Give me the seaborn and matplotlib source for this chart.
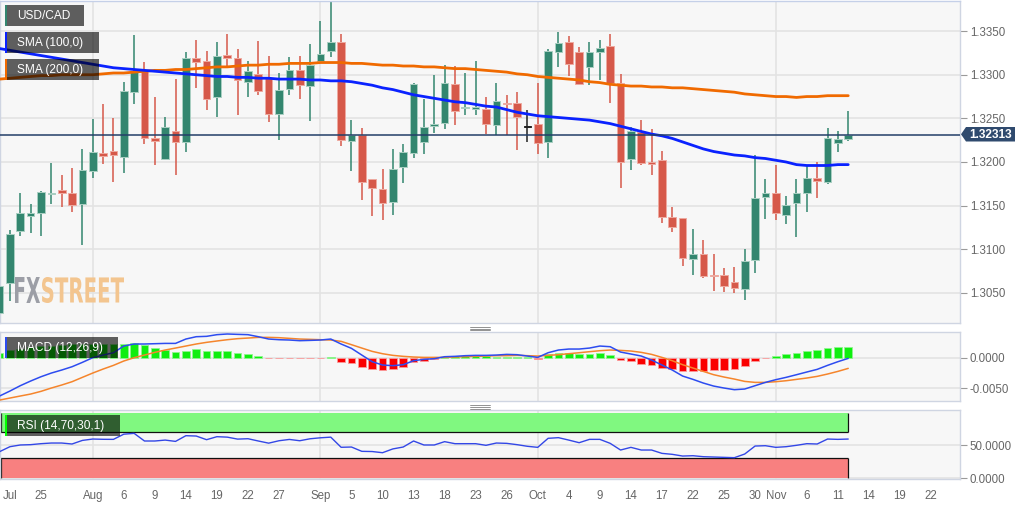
import numpy as np
import pandas as pd
import matplotlib
matplotlib.use("Agg")
import matplotlib.pyplot as plt
import seaborn as sns
from matplotlib.patches import Rectangle, Polygon, PathPatch
from matplotlib.lines import Line2D
from matplotlib.textpath import TextPath
from matplotlib.font_manager import FontProperties
from matplotlib.transforms import Affine2D

# ---------------- data (USD/CAD daily) ----------------
open_ = [1.3027, 1.3061, 1.3121, 1.3138, 1.3141, 1.3163, 1.3168, 1.3165, 1.3152, 1.3190,
         1.3210, 1.3213, 1.3206, 1.3280, 1.3304, 1.3227, 1.3203, 1.3236, 1.3223, 1.3319,
         1.3316, 1.3275, 1.3323, 1.3319, 1.3292, 1.3301, 1.3296, 1.3255, 1.3284, 1.3306,
         1.3287, 1.3316, 1.3327, 1.3337, 1.3224, 1.3231, 1.3180, 1.3169, 1.3154, 1.3194,
         1.3210, 1.3223, 1.3241, 1.3245, 1.3289, 1.3262, 1.3261, 1.3261, 1.3242, 1.3268,
         1.3268, 1.3241, 1.3243, 1.3223, 1.3326, 1.3337, 1.3326, 1.3309, 1.3326, 1.3333,
         1.3291, 1.3203, 1.3234, 1.3200, 1.3202, 1.3137, 1.3136, 1.3089, 1.3094, 1.3071,
         1.3071, 1.3063, 1.3054, 1.3088, 1.3160, 1.3165, 1.3139, 1.3153, 1.3164, 1.3182,
         1.3177, 1.3222, 1.3226]
high = [1.3111, 1.3122, 1.3165, 1.3152, 1.3167, 1.3199, 1.3185, 1.3193, 1.3215, 1.3249,
        1.3267, 1.3250, 1.3292, 1.3345, 1.3315, 1.3275, 1.3251, 1.3295, 1.3326, 1.3340,
        1.3327, 1.3337, 1.3347, 1.3329, 1.3316, 1.3339, 1.3321, 1.3302, 1.3320, 1.3322,
        1.3335, 1.3362, 1.3383, 1.3347, 1.3248, 1.3239, 1.3180, 1.3192, 1.3215, 1.3221,
        1.3290, 1.3272, 1.3300, 1.3311, 1.3310, 1.3302, 1.3316, 1.3275, 1.3290, 1.3277,
        1.3280, 1.3260, 1.3290, 1.3329, 1.3349, 1.3344, 1.3332, 1.3337, 1.3340, 1.3347,
        1.3301, 1.3240, 1.3248, 1.3238, 1.3213, 1.3149, 1.3136, 1.3123, 1.3111, 1.3095,
        1.3079, 1.3080, 1.3100, 1.3208, 1.3180, 1.3197, 1.3161, 1.3180, 1.3195, 1.3200,
        1.3239, 1.3236, 1.3259]
low = [1.3020, 1.3041, 1.3115, 1.3119, 1.3115, 1.3152, 1.3149, 1.3143, 1.3105, 1.3182,
       1.3198, 1.3177, 1.3187, 1.3267, 1.3221, 1.3197, 1.3202, 1.3185, 1.3211, 1.3285,
       1.3260, 1.3251, 1.3309, 1.3254, 1.3275, 1.3277, 1.3246, 1.3225, 1.3277, 1.3272,
       1.3247, 1.3315, 1.3320, 1.3218, 1.3190, 1.3157, 1.3138, 1.3134, 1.3139, 1.3176,
       1.3205, 1.3209, 1.3233, 1.3238, 1.3242, 1.3254, 1.3254, 1.3232, 1.3231, 1.3231,
       1.3214, 1.3223, 1.3209, 1.3205, 1.3309, 1.3299, 1.3288, 1.3288, 1.3294, 1.3268,
       1.3170, 1.3191, 1.3196, 1.3185, 1.3130, 1.3120, 1.3081, 1.3070, 1.3067, 1.3052,
       1.3051, 1.3050, 1.3042, 1.3073, 1.3135, 1.3133, 1.3129, 1.3114, 1.3143, 1.3159,
       1.3175, 1.3212, 1.3224]
close = [1.3058, 1.3118, 1.3141, 1.3141, 1.3166, 1.3165, 1.3165, 1.3151, 1.3191, 1.3212,
         1.3207, 1.3208, 1.3281, 1.3303, 1.3227, 1.3224, 1.3240, 1.3223, 1.3319, 1.3315,
         1.3272, 1.3322, 1.3319, 1.3294, 1.3304, 1.3281, 1.3255, 1.3283, 1.3305, 1.3288,
         1.3311, 1.3324, 1.3337, 1.3225, 1.3231, 1.3177, 1.3170, 1.3153, 1.3192, 1.3211,
         1.3289, 1.3240, 1.3243, 1.3290, 1.3259, 1.3263, 1.3263, 1.3244, 1.3270, 1.3266,
         1.3251, 1.3241, 1.3222, 1.3327, 1.3336, 1.3312, 1.3289, 1.3326, 1.3331, 1.3290,
         1.3200, 1.3236, 1.3199, 1.3198, 1.3137, 1.3126, 1.3090, 1.3095, 1.3069, 1.3069,
         1.3058, 1.3056, 1.3087, 1.3159, 1.3165, 1.3142, 1.3151, 1.3164, 1.3182, 1.3178,
         1.3228, 1.3226, 1.32313]
sma100 = [1.3330, 1.3328, 1.3326, 1.3324, 1.3322, 1.3320, 1.3318, 1.3316, 1.3314, 1.3312,
          1.3310, 1.3308, 1.3307, 1.3306, 1.3305, 1.3304, 1.3303, 1.3302, 1.3301, 1.3300,
          1.3299, 1.3298, 1.3298, 1.3297, 1.3297, 1.3296, 1.3296, 1.3295, 1.3295, 1.3295,
          1.3294, 1.3294, 1.3293, 1.3293, 1.3292, 1.3290, 1.3288, 1.3285, 1.3283, 1.3280,
          1.3277, 1.3275, 1.3273, 1.3271, 1.3269, 1.3268, 1.3266, 1.3264, 1.3263, 1.3260,
          1.3257, 1.3255, 1.3253, 1.3252, 1.3251, 1.3250, 1.3249, 1.3248, 1.3246, 1.3244,
          1.3241, 1.3238, 1.3235, 1.3232, 1.3230, 1.3227, 1.3223, 1.3219, 1.3215, 1.3212,
          1.3210, 1.3208, 1.3207, 1.3205, 1.3204, 1.3202, 1.3200, 1.3197, 1.3196, 1.3196,
          1.3196, 1.3197, 1.3197]
sma200 = [1.3295, 1.3296, 1.3297, 1.3298, 1.3299, 1.3299, 1.3300, 1.3300, 1.3300, 1.3300,
          1.3301, 1.3302, 1.3302, 1.3303, 1.3304, 1.3305, 1.3305, 1.3306, 1.3306, 1.3307,
          1.3308, 1.3309, 1.3309, 1.3310, 1.3311, 1.3311, 1.3312, 1.3312, 1.3313, 1.3313,
          1.3313, 1.3314, 1.3314, 1.3314, 1.3313, 1.3313, 1.3312, 1.3311, 1.3311, 1.3310,
          1.3310, 1.3309, 1.3309, 1.3308, 1.3307, 1.3307, 1.3306, 1.3305, 1.3304, 1.3303,
          1.3301, 1.3300, 1.3298, 1.3297, 1.3296, 1.3295, 1.3294, 1.3292, 1.3291, 1.3289,
          1.3288, 1.3287, 1.3287, 1.3286, 1.3286, 1.3285, 1.3285, 1.3284, 1.3283, 1.3282,
          1.3281, 1.3280, 1.3278, 1.3277, 1.3276, 1.3275, 1.3275, 1.3274, 1.3275, 1.3275,
          1.3276, 1.3276, 1.3276]
macd_line = [-0.00624, -0.00543, -0.00456, -0.00380, -0.00310, -0.00250, -0.00201, -0.00147, -0.00076, 0.00000,
             0.00043, 0.00081, 0.00190, 0.00223, 0.00223, 0.00228, 0.00233, 0.00233, 0.00304, 0.00342,
             0.00348, 0.00375, 0.00386, 0.00380, 0.00375, 0.00342, 0.00304, 0.00293, 0.00288, 0.00277,
             0.00282, 0.00288, 0.00304, 0.00223, 0.00152, 0.00043, -0.00065, -0.00119, -0.00130, -0.00114,
             -0.00049, -0.00027, -0.00016, 0.00016, 0.00022, 0.00033, 0.00038, 0.00038, 0.00043, 0.00054,
             0.00049, 0.00027, 0.00005, 0.00081, 0.00125, 0.00141, 0.00141, 0.00157, 0.00190, 0.00179,
             0.00092, 0.00060, 0.00027, -0.00038, -0.00119, -0.00201, -0.00299, -0.00353, -0.00413, -0.00462,
             -0.00494, -0.00521, -0.00510, -0.00456, -0.00402, -0.00358, -0.00320, -0.00277, -0.00233, -0.00190,
             -0.00125, -0.00065, -0.00011]
macd_signal = [-0.00690, -0.00657, -0.00624, -0.00592, -0.00548, -0.00494, -0.00445, -0.00391, -0.00320, -0.00250,
               -0.00185, -0.00125, -0.00054, 0.00000, 0.00043, 0.00087, 0.00125, 0.00157, 0.00190, 0.00223,
               0.00250, 0.00272, 0.00293, 0.00310, 0.00320, 0.00331, 0.00331, 0.00326, 0.00315, 0.00304,
               0.00299, 0.00293, 0.00288, 0.00266, 0.00212, 0.00157, 0.00103, 0.00065, 0.00038, 0.00022,
               0.00011, 0.00005, 0.00005, 0.00005, 0.00011, 0.00016, 0.00022, 0.00027, 0.00033, 0.00033,
               0.00038, 0.00033, 0.00027, 0.00038, 0.00049, 0.00065, 0.00081, 0.00098, 0.00114, 0.00125,
               0.00119, 0.00109, 0.00087, 0.00054, 0.00005, -0.00049, -0.00114, -0.00168, -0.00223, -0.00277,
               -0.00315, -0.00348, -0.00386, -0.00402, -0.00402, -0.00391, -0.00375, -0.00353, -0.00331, -0.00304,
               -0.00266, -0.00223, -0.00174]
macd_hist = [0.00071, 0.00119, 0.00147, 0.00168, 0.00185, 0.00195, 0.00206, 0.00217, 0.00223, 0.00228,
             0.00223, 0.00217, 0.00223, 0.00244, 0.00201, 0.00157, 0.00125, 0.00098, 0.00114, 0.00136,
             0.00109, 0.00109, 0.00103, 0.00076, 0.00065, 0.00033, -0.00011, -0.00011, -0.00011, -0.00011,
             -0.00011, -0.00005, 0.00005, -0.00065, -0.00092, -0.00147, -0.00185, -0.00201, -0.00185, -0.00147,
             -0.00076, -0.00049, -0.00027, 0.00016, 0.00027, 0.00027, 0.00027, 0.00027, 0.00016, 0.00016,
             0.00016, 0.00005, -0.00022, 0.00054, 0.00071, 0.00071, 0.00060, 0.00060, 0.00071, 0.00043,
             -0.00033, -0.00060, -0.00098, -0.00119, -0.00163, -0.00190, -0.00212, -0.00217, -0.00217, -0.00201,
             -0.00195, -0.00179, -0.00136, -0.00049, -0.00005, 0.00033, 0.00060, 0.00081, 0.00109, 0.00125,
             0.00152, 0.00168, 0.00174]
rsi = [40.3, 47.9, 50.5, 51.0, 52.5, 53.5, 53.5, 52.0, 57.5, 59.6,
       59.2, 59.1, 67.0, 68.3, 56.6, 56.6, 58.0, 56.0, 64.7, 64.2,
       58.6, 63.2, 62.5, 59.5, 60.1, 56.6, 53.3, 57.0, 59.0, 57.0,
       60.0, 61.5, 62.5, 47.0, 47.4, 40.8, 40.5, 38.7, 44.5, 47.4,
       56.6, 50.5, 50.5, 55.6, 52.5, 52.5, 52.5, 50.0, 53.5, 53.0,
       51.0, 48.5, 46.9, 60.7, 61.7, 58.0, 54.0, 59.1, 59.1, 53.0,
       42.8, 46.9, 42.8, 42.8, 37.7, 36.2, 33.6, 34.1, 32.6, 32.1,
       31.6, 31.1, 36.7, 48.9, 49.4, 46.9, 47.9, 50.0, 52.5, 52.0,
       59.6, 59.1, 59.6]

tick_dates = ['2018-07-22', '2018-07-25', '2018-08-01', '2018-08-06', '2018-08-09', '2018-08-14',
              '2018-08-19', '2018-08-22', '2018-08-27', '2018-09-02', '2018-09-05', '2018-09-10',
              '2018-09-13', '2018-09-18', '2018-09-23', '2018-09-26', '2018-10-01', '2018-10-04',
              '2018-10-09', '2018-10-14', '2018-10-17', '2018-10-22', '2018-10-25', '2018-10-30',
              '2018-11-01', '2018-11-06', '2018-11-11', '2018-11-14', '2018-11-19', '2018-11-22']
tick_labels = ['Jul', '25', 'Aug', '6', '9', '14', '19', '22', '27', 'Sep', '5', '10', '13', '18',
               '23', '26', 'Oct', '4', '9', '14', '17', '22', '25', '30', 'Nov', '6', '11', '14',
               '19', '22']
month_grid = ['Aug', 'Sep', 'Oct', 'Nov']
price_ticks = [1.3050, 1.3100, 1.3150, 1.3200, 1.3250, 1.3300, 1.3350]

# ---------------- setup ----------------
sns.set_theme(style="white")
plt.rcParams['font.family'] = ['Liberation Sans', 'DejaVu Sans']

W, H = 1032, 505
fig = plt.figure(figsize=(W / 100, H / 100), dpi=100, facecolor='white')
PIX = Affine2D().scale(1, -1).translate(0, H)   # top-left pixel coords -> display


def px_axes(x0, y0, x1, y1):
    a = fig.add_axes([x0 / W, 1 - y1 / H, (x1 - x0) / W, (y1 - y0) / H])
    a.set_facecolor('#f7f7f7')
    for s in a.spines.values():
        s.set_color('#cfd5e2')
        s.set_linewidth(1.0)
    return a


ax = px_axes(0, 1, 960, 323)
axm = px_axes(0, 332, 960, 401)
axr = px_axes(0, 410, 960, 479)

axis_dates = pd.bdate_range('2018-07-19', '2018-11-30', freq='C', weekmask='Sun Mon Tue Wed Thu')
n = len(close)
x = np.arange(n)
o, h, l, c = map(np.array, (open_, high, low, close))
tick_pos = axis_dates.get_indexer(pd.to_datetime(tick_dates))
grid_pos = [p for p, t in zip(tick_pos, tick_labels) if t in month_grid]

XL = (0.04, 92.8)
for a in (ax, axm, axr):
    a.set_xlim(*XL)
    for gp in grid_pos:
        a.axvline(gp, color='#e3e3e3', lw=1.2, zorder=0.6)

# ---------------- main panel ----------------
GREEN, RED = '#33866f', '#d6594a'
GREEN_E, RED_E = '#a9cfc2', '#eeaaa0'
is_doji = np.isclose(o, c)
up = c > o
fcol = np.where(is_doji, '#222222', np.where(up, GREEN, RED))
ecol = np.where(is_doji, '#222222', np.where(up, GREEN_E, RED_E))

ax.vlines(x, l, h, colors=fcol, lw=1.1, zorder=2)
body_h = np.maximum(np.abs(c - o), 0.00012)
ax.bar(x, body_h, bottom=np.minimum(o, c) - np.where(is_doji, 0.00006, 0), width=0.74,
       color=fcol, edgecolor=ecol, linewidth=0.7, zorder=3)

sns.lineplot(x=x, y=sma200, ax=ax, color='#f06a00', lw=2.0, zorder=4, legend=False)
sns.lineplot(x=x, y=sma100, ax=ax, color='#0a22ff', lw=2.0, zorder=4, legend=False)
ax.axhline(c[-1], color='#233f68', lw=1.1, zorder=5)

ax.set_ylim(1.30155, 1.33845)
ax.yaxis.tick_right()
ax.set_yticks(price_ticks)
ax.set_yticklabels([f'{v:.4f}' for v in price_ticks])
ax.grid(axis='y', color='#e3e3e3', lw=1.2)
ax.set_axisbelow(True)
ax.set_xticks([])
ax.spines['top'].set_color('#c5d0e8')

# FXSTREET logo (scaled text outline)
fp = FontProperties(family='DejaVu Sans', weight='bold')


def logo(txt, x0, x1, y0, y1, color):
    tp = TextPath((0, 0), txt, size=50, prop=fp)
    e = tp.get_extents()
    tr = (Affine2D().translate(-e.x0, -e.y0)
          .scale((x1 - x0) / e.width, (y1 - y0) / e.height)
          .translate(x0, H - y1))
    ax.add_patch(PathPatch(tp, transform=tr, facecolor=color, edgecolor='none', zorder=1))


logo('FX', 15, 40, 277, 303, '#9c9ea6')
logo('STREET', 42, 124, 277, 303, '#f3c58f')

# ---------------- MACD panel ----------------
hist = np.array(macd_hist)
hcol = np.where(hist >= 0, '#0fee0f', '#fa0000')
hedge = np.where(hist >= 0, '#8ff58f', '#fb9a9a')
hh = np.where(np.abs(hist) < 0.00012, np.sign(hist + 1e-9) * 0.00012, hist)
axm.bar(x, hh, width=0.74, color=hcol, edgecolor=hedge, linewidth=0.6, zorder=2)
sns.lineplot(x=x, y=macd_signal, ax=axm, color='#f5852c', lw=1.1, zorder=3, legend=False)
sns.lineplot(x=x, y=macd_line, ax=axm, color='#2d4cf0', lw=1.1, zorder=3, legend=False)
axm.set_ylim(-0.007052, 0.004186)
axm.yaxis.tick_right()
axm.set_yticks([0.0, -0.005])
axm.set_yticklabels(['0.0000', '-0.0050'])
axm.grid(axis='y', color='#e3e3e3', lw=1.2)
axm.set_axisbelow(True)
axm.set_xticks([])

# ---------------- RSI panel ----------------
axr.fill_between([0 - 0.5, n - 1], 70, 100, color='#80f880', lw=0, zorder=1)
axr.fill_between([0 - 0.5, n - 1], 0, 30, color='#f88080', lw=0, zorder=1)
axr.hlines([70, 30], -0.5, n - 1, colors='#111111', lw=0.9, zorder=2)
axr.vlines([n - 1, n - 1, XL[0] + 0.08, XL[0] + 0.08], [70, 0, 70, 0], [100, 30, 100, 30],
           colors='#111111', lw=0.9, zorder=2)
sns.lineplot(x=x, y=rsi, ax=axr, color='#3347e6', lw=1.0, zorder=3, legend=False)
axr.set_ylim(-1.5, 104.0)
axr.yaxis.tick_right()
axr.set_yticks([0, 50])
axr.set_yticklabels(['0.0000', '50.0000'])
axr.grid(axis='y', color='#e3e3e3', lw=1.2)
axr.set_axisbelow(True)
axr.set_xticks(tick_pos)
axr.set_xticklabels(tick_labels)

for a in (ax, axm, axr):
    a.set_xlabel('')
    a.set_ylabel('')
    a.tick_params(axis='y', which='both', right=True, left=False, length=5, width=0.8,
                  color='#9a9a9a', labelcolor='#666666', labelsize=8.3, pad=2)
axr.tick_params(axis='x', length=0, labelcolor='#666666', labelsize=8.3, pad=8)

# ---------------- overlay labels ----------------
def label_box(x0, y0, x1, y1, bar_color, text):
    fig.add_artist(Rectangle((x0, y0), x1 - x0, y1 - y0, transform=PIX,
                             facecolor='black', alpha=0.62, edgecolor='none', zorder=10))
    fig.add_artist(Rectangle((x0, y0), 2.2, y1 - y0, transform=PIX,
                             facecolor=bar_color, edgecolor='none', zorder=11))
    fig.text(17 / W, 1 - ((y0 + y1) / 2 + 0.5) / H, text, color='white', fontsize=8.6,
             ha='left', va='center', zorder=12)


label_box(5, 5, 84, 26, GREEN, 'USD/CAD')
label_box(5, 32, 99, 53, '#0a22ff', 'SMA (100,0)')
label_box(5, 59, 99, 80, '#f06a00', 'SMA (200,0)')
label_box(5, 337, 118, 358, '#2d4cf0', 'MACD (12,26,9)')
label_box(5, 415, 120, 436, '#00ff00', 'RSI (14,70,30,1)')

# current price tag
fig.add_artist(Polygon([(961, 134.3), (966, 127), (1015, 127), (1015, 141.5), (966, 141.5)],
                       closed=True, transform=PIX, facecolor='#2f4a6e', edgecolor='none', zorder=10))
fig.text(990.5 / W, 1 - 134.5 / H, f'{close[-1]:.5f}', color='white', fontsize=8.6,
         fontweight='bold', ha='center', va='center', zorder=12)

# panel resize handles
for yy in (326.8, 328.5, 330.2, 405.3, 407.0, 408.7):
    fig.add_artist(Line2D([470, 490], [yy, yy], transform=PIX, color='#808080', lw=0.6, zorder=10))

fig.savefig('out.png', dpi=100, facecolor='white')
